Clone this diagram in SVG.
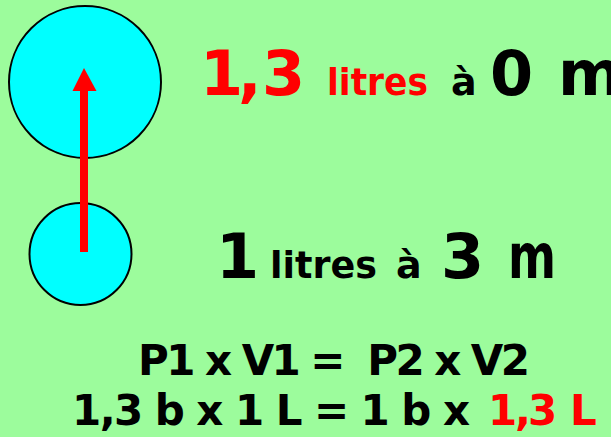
<svg xmlns="http://www.w3.org/2000/svg" width="611" height="437" viewBox="0 0 611 437">
<style>
.bubble{fill:#00FFFF;stroke:#000;stroke-width:2}
text{font-family:"DejaVu Sans","Liberation Sans",sans-serif;font-weight:bold}
.big{font-size:62px}
.small{font-size:38px}
.eq{font-size:42px;fill:#000}
.red{fill:#FF0000}
.blk{fill:#000}
</style>
<rect x="0" y="0" width="611" height="437" fill="#9CFC9C"/>
<g id="bubble-top"><circle class="bubble" cx="85" cy="82" r="76"/></g>
<g id="bubble-bottom"><circle class="bubble" cx="80.5" cy="254" r="51"/></g>
<g id="connectors">
<rect x="80" y="88" width="8" height="164" fill="#FF0000"/>
<polygon points="84,68 72.5,91 96.5,91" fill="#FF0000"/>
</g>
<g id="label-top">
<text y="95"><tspan class="big red" x="200 238 262">1,3</tspan><tspan class="small red" x="327" textLength="101" lengthAdjust="spacingAndGlyphs">litres</tspan><tspan class="small blk" x="451">à</tspan><tspan class="big blk" x="490">0</tspan><tspan class="big blk" x="558">m</tspan></text>
</g>
<g id="label-bottom">
<text y="278"><tspan class="big blk" x="216">1</tspan><tspan class="small blk" x="270" textLength="107" lengthAdjust="spacingAndGlyphs">litres</tspan><tspan class="small blk" x="396">à</tspan><tspan class="big blk" x="441">3</tspan><tspan class="big blk" x="508" textLength="48" lengthAdjust="spacingAndGlyphs">m</tspan></text>
</g>
<g id="equations">
<text class="eq" x="138" y="375" textLength="392" lengthAdjust="spacing" xml:space="preserve">P1 x V1 =  P2 x V2</text>
<text class="eq" x="72" y="425" textLength="398" lengthAdjust="spacing">1,3 b x 1 L = 1 b x</text>
<text class="eq red" x="488 515 528 558 570" y="425">1,3 L</text>
</g>
</svg>
